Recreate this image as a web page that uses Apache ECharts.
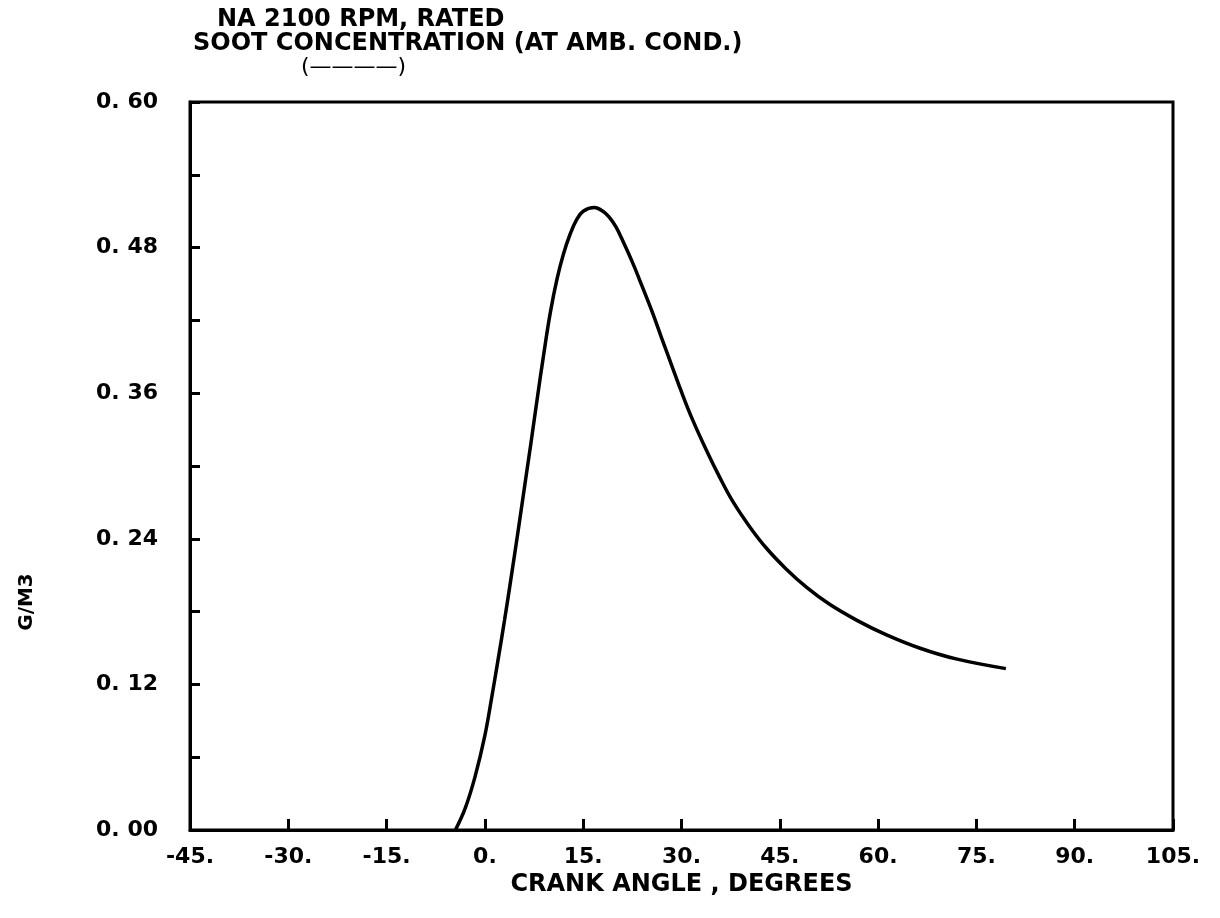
<!DOCTYPE html>
<html>
<head>
<meta charset="utf-8">
<title>Soot concentration vs crank angle</title>
<script src="https://cdn.jsdelivr.net/npm/echarts@6/dist/echarts.min.js"></script>
<style>
  html, body { margin: 0; padding: 0; background: #fff; }
  #chart { width: 1220px; height: 918px; }
</style>
</head>
<body>
<div id="chart"></div>
<script>
// Crank angle (degrees) and soot concentration (g/m3) at ambient conditions
const crankAngle = [
  -4.5, -3.0, -1.5, 0.0, 1.0, 2.0, 3.0, 4.0, 5.0, 6.0, 7.0, 8.0, 9.0, 10.0,
  11.0, 12.0, 13.0, 14.0, 15.0, 16.7, 18.0, 19.0, 20.0, 21.0, 22.5, 24.0,
  25.6, 27.0, 28.5, 30.0, 31.7, 33.8, 35.8, 37.8, 40.4, 43.0, 46.0, 49.1,
  52.6, 56.7, 61.2, 66.3, 71.9, 79.5
];
const sootConc = [
  0.000, 0.018, 0.044, 0.078, 0.108, 0.140, 0.173, 0.208, 0.244, 0.281, 0.318, 0.356, 0.393, 0.427,
  0.454, 0.475, 0.491, 0.503, 0.510, 0.513, 0.510, 0.505, 0.497, 0.486, 0.468, 0.448,
  0.426, 0.405, 0.383, 0.361, 0.338, 0.313, 0.291, 0.271, 0.250, 0.232, 0.215, 0.200,
  0.186, 0.173, 0.161, 0.150, 0.141, 0.133
];

const titleLines = ['NA 2100 RPM, RATED', 'SOOT CONCENTRATION (AT AMB. COND.)', '(————)'];
const xAxisTitle = 'CRANK ANGLE , DEGREES';
const yAxisTitle = 'G/M3';

const FONT = '"DejaVu Sans", sans-serif';
const ink = '#000';

const chart = echarts.init(document.getElementById('chart'), null, { renderer: 'canvas' });

const textStyleBase = { fontFamily: FONT, fontWeight: 'bold', fontSize: 22, color: ink };
const titleStyle = Object.assign({}, textStyleBase, { fontSize: 24 });

chart.setOption({
  backgroundColor: '#fff',
  animation: false,
  title: [
    { text: titleLines[0], left: 212, top: 3, textStyle: titleStyle },
    { text: titleLines[1], left: 188, top: 27, textStyle: titleStyle },
    { text: titleLines[2], left: 296, top: 51, textStyle: Object.assign({}, textStyleBase, { fontWeight: 'normal' }) }
  ],
  graphic: [
    {
      type: 'text',
      x: 27, y: 602,
      rotation: Math.PI / 2,
      style: {
        text: yAxisTitle,
        font: 'bold 20px ' + FONT,
        fill: ink,
        align: 'center',
        verticalAlign: 'middle'
      }
    }
  ],
  grid: {
    left: 190, right: 47, top: 102, bottom: 88,
    show: true, borderColor: ink, borderWidth: 3, backgroundColor: 'transparent'
  },
  xAxis: {
    type: 'value',
    min: -45, max: 105, interval: 15,
    name: xAxisTitle,
    nameLocation: 'middle',
    nameGap: 33,
    nameTextStyle: Object.assign({}, textStyleBase, { fontSize: 24 }),
    axisLine: { show: true, onZero: false, lineStyle: { color: ink, width: 3 } },
    axisTick: { show: true, inside: true, length: 11, lineStyle: { color: ink, width: 3 } },
    axisLabel: {
      margin: 16,
      fontFamily: FONT, fontWeight: 'bold', fontSize: 22, color: ink,
      formatter: v => v + '.'
    },
    splitLine: { show: false }
  },
  yAxis: {
    type: 'value',
    min: 0, max: 0.6, interval: 0.12,
    axisLine: { show: true, onZero: false, lineStyle: { color: ink, width: 3 } },
    axisTick: { show: true, inside: true, length: 10, lineStyle: { color: ink, width: 3 } },
    minorTick: { show: true, splitNumber: 2, length: 10, lineStyle: { color: ink, width: 3 } },
    axisLabel: {
      margin: 32,
      fontFamily: FONT, fontWeight: 'bold', fontSize: 22, color: ink,
      formatter: v => v.toFixed(2).replace('.', '. ')
    },
    splitLine: { show: false }
  },
  series: [
    {
      type: 'line',
      data: crankAngle.map((x, i) => [x, sootConc[i]]),
      smooth: 0.4,
      showSymbol: false,
      lineStyle: { color: ink, width: 3.5 },
      clip: true
    }
  ]
});
</script>
</body>
</html>
